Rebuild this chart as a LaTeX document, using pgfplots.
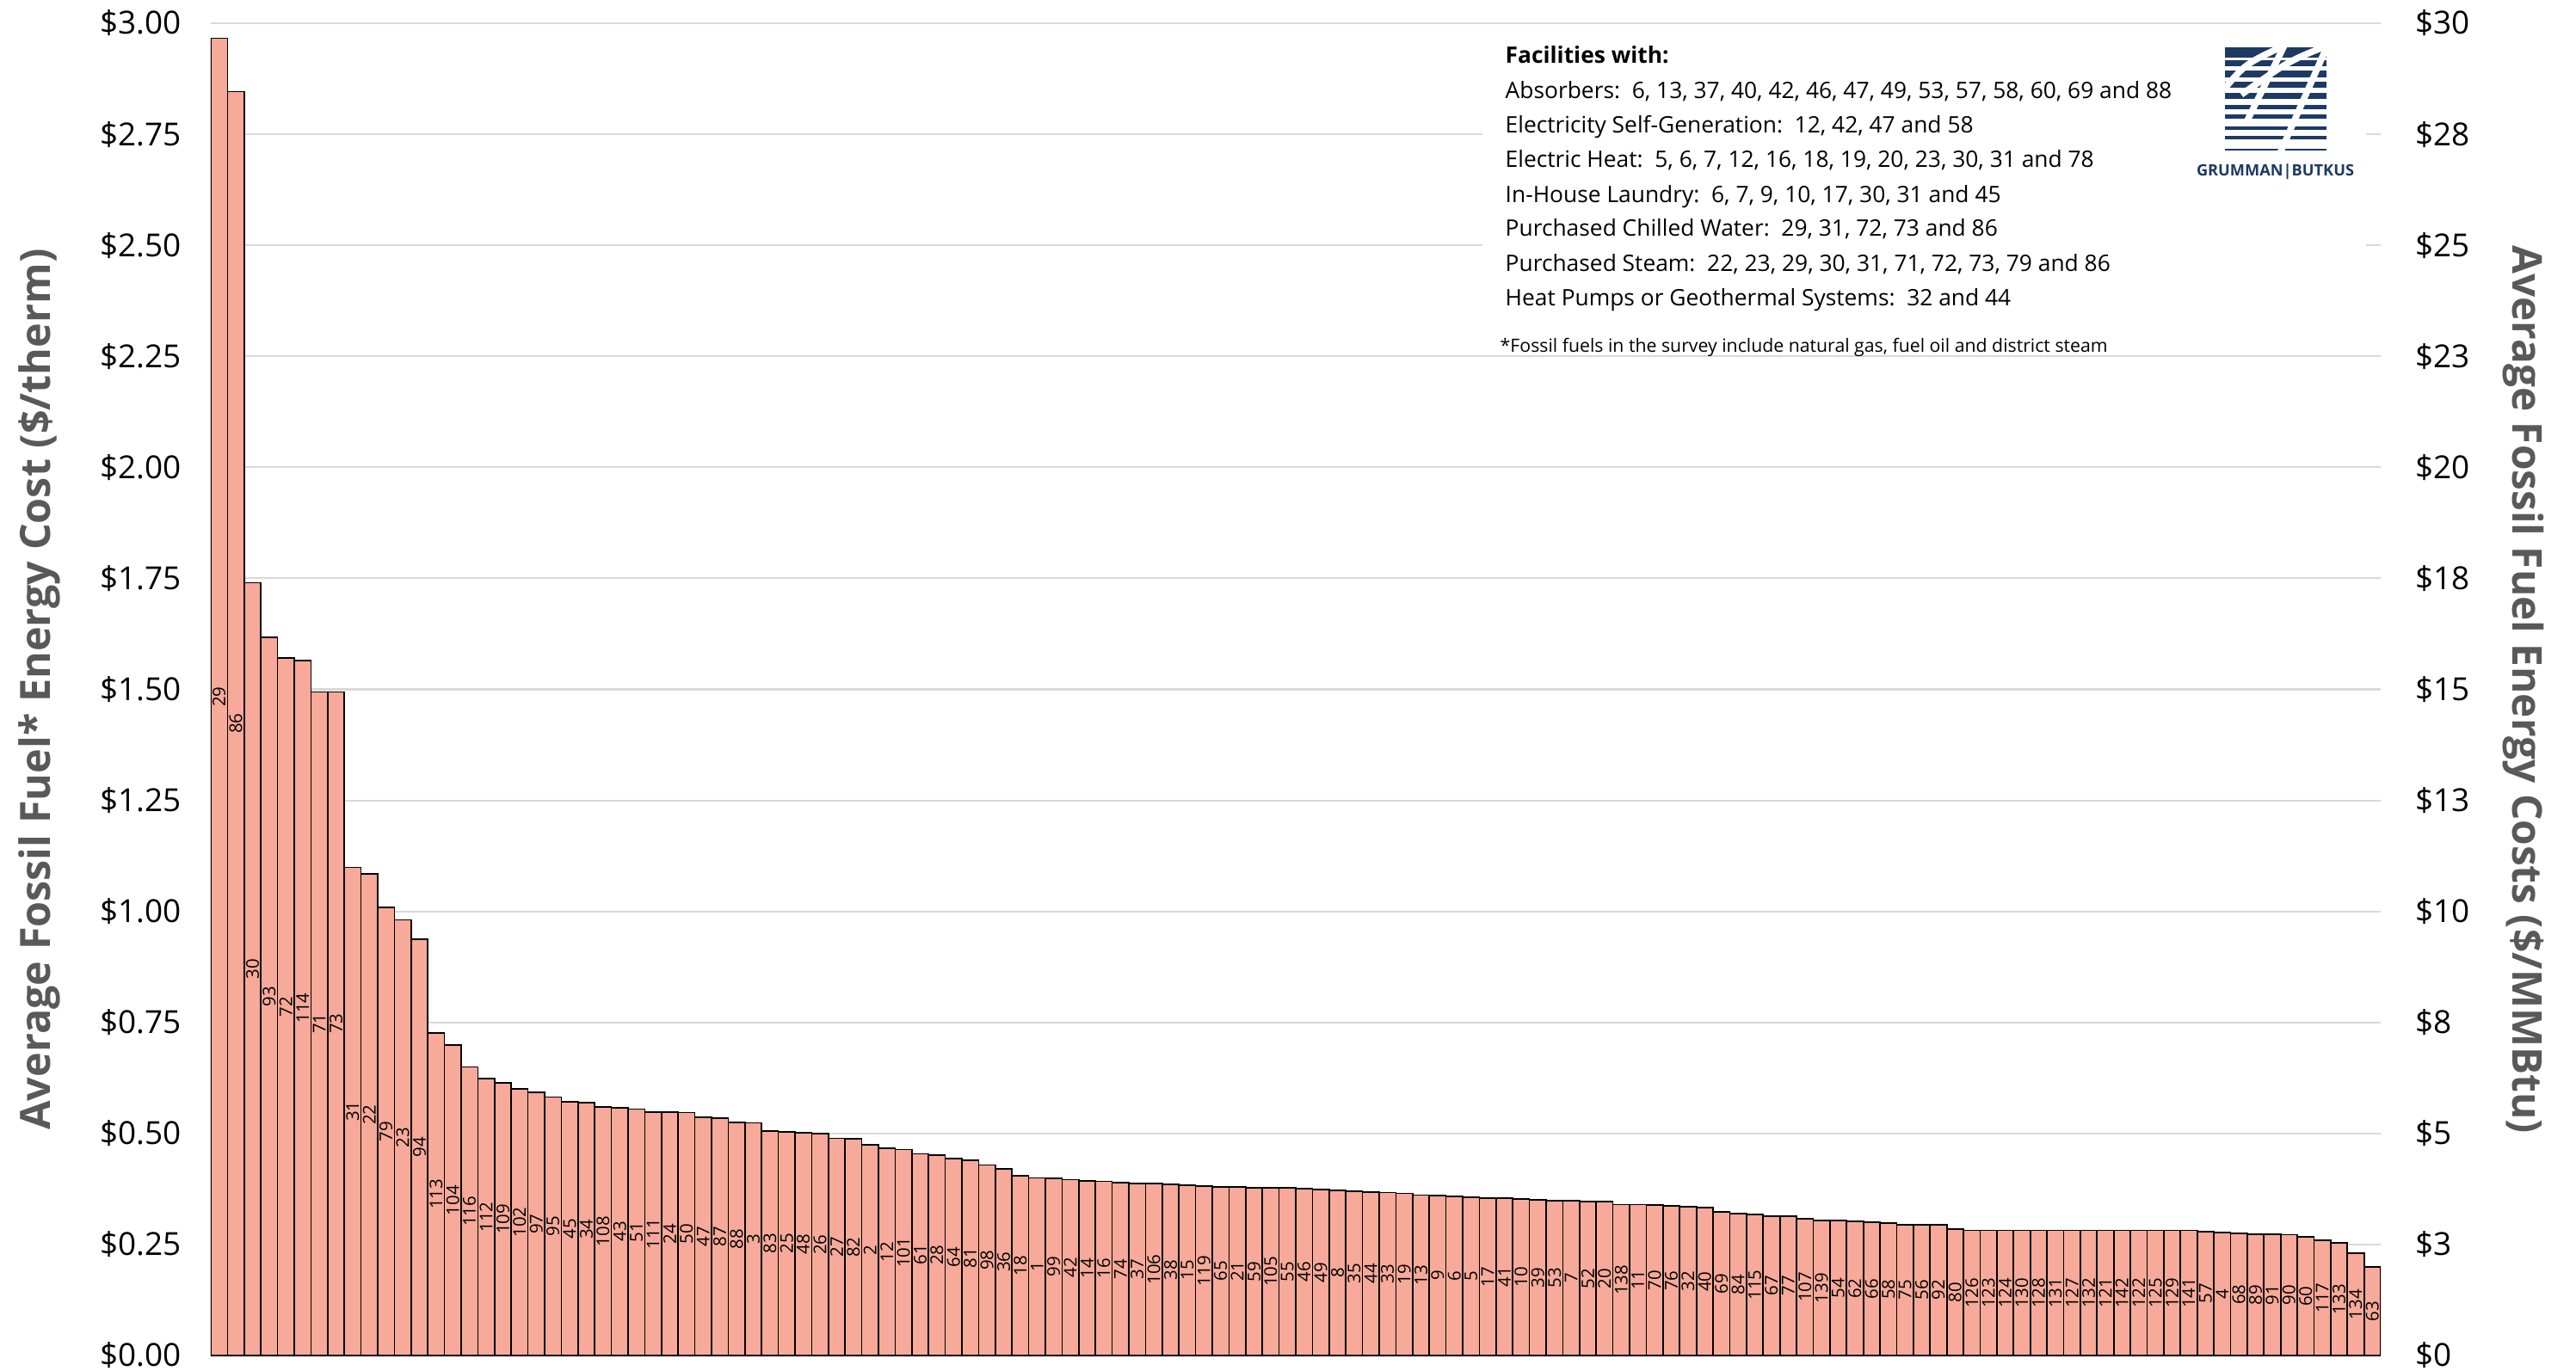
\documentclass[border=0pt]{standalone}
\usepackage{pgfplots}
\pgfplotsset{compat=1.18}
\usepackage{pgfplotstable}
\usepackage{fontspec}
\setmainfont{Open Sans}
\definecolor{barfill}{RGB}{247,170,153}
\definecolor{labgray}{RGB}{89,89,89}
\definecolor{gridgray}{RGB}{217,217,217}
\definecolor{basegray}{RGB}{191,191,191}
\definecolor{navy}{RGB}{28,58,99}

% facility cost, sorted high to low; lab = facility number
\pgfplotstableread{
x y lab
0 2.966 29
1 2.846 86
2 1.740 30
3 1.617 93
4 1.570 72
5 1.565 114
6 1.494 71
7 1.494 73
8 1.099 31
9 1.084 22
10 1.009 79
11 0.981 23
12 0.938 94
13 0.727 113
14 0.699 104
15 0.650 116
16 0.623 112
17 0.614 109
18 0.601 102
19 0.592 97
20 0.582 95
21 0.571 45
22 0.569 34
23 0.559 108
24 0.558 43
25 0.555 51
26 0.548 111
27 0.548 24
28 0.547 50
29 0.537 47
30 0.535 87
31 0.525 88
32 0.524 3
33 0.506 83
34 0.504 25
35 0.502 48
36 0.499 26
37 0.489 27
38 0.488 82
39 0.475 2
40 0.467 12
41 0.464 101
42 0.454 61
43 0.452 28
44 0.443 64
45 0.440 81
46 0.429 98
47 0.421 36
48 0.405 18
49 0.400 1
50 0.399 99
51 0.396 42
52 0.393 14
53 0.392 16
54 0.389 74
55 0.388 37
56 0.387 106
57 0.385 38
58 0.384 15
59 0.381 119
60 0.380 65
61 0.379 21
62 0.378 59
63 0.378 105
64 0.377 55
65 0.376 46
66 0.374 49
67 0.372 8
68 0.370 35
69 0.368 44
70 0.367 33
71 0.365 19
72 0.361 13
73 0.360 9
74 0.358 6
75 0.357 5
76 0.355 17
77 0.355 41
78 0.353 10
79 0.351 39
80 0.349 53
81 0.348 7
82 0.347 52
83 0.346 20
84 0.340 138
85 0.340 11
86 0.339 70
87 0.337 76
88 0.335 32
89 0.333 40
90 0.323 69
91 0.320 84
92 0.317 115
93 0.314 67
94 0.314 77
95 0.308 107
96 0.304 139
97 0.304 54
98 0.302 62
99 0.300 66
100 0.298 58
101 0.295 75
102 0.295 56
103 0.295 92
104 0.285 80
105 0.282 126
106 0.282 123
107 0.282 124
108 0.282 130
109 0.282 128
110 0.282 131
111 0.282 127
112 0.282 132
113 0.282 121
114 0.282 142
115 0.282 122
116 0.282 125
117 0.282 129
118 0.282 141
119 0.279 57
120 0.277 4
121 0.275 68
122 0.273 89
123 0.273 91
124 0.272 90
125 0.267 60
126 0.260 117
127 0.253 133
128 0.230 134
129 0.199 63
}\costdata

\begin{document}
\begin{tikzpicture}
\begin{axis}[
    at={(0,0)}, anchor=south west,
    scale only axis, width=252.2mm, height=154.9mm,
    xmin=-0.5, xmax=129.5, ymin=0, ymax=3,
    axis x line*=bottom, axis y line*=left,
    x axis line style={draw=basegray, line width=0.6pt},
    y axis line style={draw=none},
    xtick=\empty,
    ytick={0,0.25,...,3},
    yticklabels={\$0.00,\$0.25,\$0.50,\$0.75,\$1.00,\$1.25,\$1.50,\$1.75,\$2.00,\$2.25,\$2.50,\$2.75,\$3.00},
    yticklabel style={font=\fontsize{10.5}{12}\selectfont, xshift=-2.2mm},
    major tick length=0pt,
    ymajorgrids, grid style={draw=gridgray, line width=0.6pt},
    ylabel={Average Fossil Fuel* Energy Cost (\$/therm)},
    every axis y label/.style={at={(axis description cs:-0.0738,0.5)}, rotate=90, anchor=base,
        font=\fontsize{13.8}{16}\selectfont\bfseries, text=labgray},
    ybar, bar width=1,
    nodes near coords,
    point meta=explicit symbolic,
    visualization depends on={y \as \rawy},
    every node near coord/.style={font=\fontsize{5.8}{6}\selectfont, yshift={-0.5*\rawy*51.633mm},
        rotate=90, anchor=center, inner sep=0pt},
]
\addplot[fill=barfill, draw=black, line width=0.5pt] table[x=x, y=y, meta=lab] {\costdata};
\end{axis}
\begin{axis}[
    at={(0,0)}, anchor=south west,
    scale only axis, width=252.2mm, height=154.9mm,
    xmin=-0.5, xmax=129.5, ymin=0, ymax=30,
    axis x line=none, axis y line*=right,
    y axis line style={draw=none},
    ytick={0,2.5,...,30},
    yticklabels={\$0,\$3,\$5,\$8,\$10,\$13,\$15,\$18,\$20,\$23,\$25,\$28,\$30},
    yticklabel style={font=\fontsize{10.5}{12}\selectfont, xshift=2.8mm},
    major tick length=0pt,
    ylabel={Average Fossil Fuel Energy Costs (\$/MMBtu)},
    every axis y label/.style={at={(axis description cs:1.0607,0.5)}, rotate=-90, anchor=base,
        font=\fontsize{13.6}{16}\selectfont\bfseries, text=labgray},
]
\end{axis}

% note box
\fill[white] (147.8mm,116.8mm) rectangle (250.5mm,154.1mm);
\begin{scope}[every node/.style={anchor=base west, inner sep=0pt, font=\fontsize{7.5}{9}\selectfont}]
\node at (150.4mm,150.23mm) {\bfseries Facilities with:};
\node at (150.4mm,146.13mm) {Absorbers:\ \ 6, 13, 37, 40, 42, 46, 47, 49, 53, 57, 58, 60, 69 and 88};
\node at (150.4mm,142.15mm) {Electricity Self-Generation:\ \ 12, 42, 47 and 58};
\node at (150.4mm,138.11mm) {Electric Heat:\ \ 5, 6, 7, 12, 16, 18, 19, 20, 23, 30, 31 and 78};
\node at (150.4mm,134.07mm) {In-House Laundry:\ \ 6, 7, 9, 10, 17, 30, 31 and 45};
\node at (150.4mm,130.10mm) {Purchased Chilled Water:\ \ 29, 31, 72, 73 and 86};
\node at (150.4mm,126.06mm) {Purchased Steam:\ \ 22, 23, 29, 30, 31, 71, 72, 73, 79 and 86};
\node at (150.4mm,122.02mm) {Heat Pumps or Geothermal Systems:\ \ 32 and 44};
\node[font=\fontsize{6.05}{7}\selectfont] at (149.8mm,116.63mm) {*Fossil fuels in the survey include natural gas, fuel oil and district steam};
\end{scope}

% logo
\begin{scope}
\clip (234.07mm,140.1mm) rectangle (245.9mm,152.1mm);
\foreach \t/\b in {152.1/150.93, 150.6/149.87, 149.43/148.6, 148.1/147.43, 146.77/146.1,
                   145.43/144.87, 144.27/143.77, 142.93/142.53, 141.77/141.4, 140.33/140.1}
  \fill[navy] (234.07mm,\b mm) rectangle (245.9mm,\t mm);
\draw[white, line width=0.75mm] (233.8mm,147.0mm) .. controls (236.5mm,150.2mm) .. (241.0mm,152.3mm) -- (236.6mm,143.4mm);
\draw[white, line width=0.75mm] (236.0mm,146.6mm) .. controls (241.5mm,150.5mm) .. (246.0mm,152.3mm) -- (240.5mm,139.8mm);
\end{scope}
\node[text=navy, inner sep=0pt] at (239.95mm,137.6mm)
  {\resizebox{18.3mm}{!}{\bfseries GRUMMAN\textbar BUTKUS}};

\pgfresetboundingbox
\path (-24.5mm,-1.7mm) rectangle (274.9mm,157.6mm);
\end{tikzpicture}
\end{document}
